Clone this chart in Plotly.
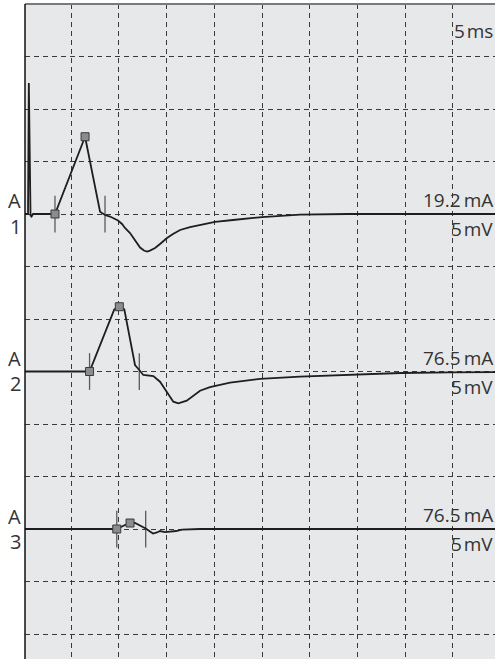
import plotly.graph_objects as go

# ---------------- data (time in ms, amplitude in mV relative to each baseline) ----------------
trace1_t = [0.18, 0.497, 0.581, 0.759, 0.864, 1.02, 3.32, 6.47, 8.04, 8.56, 9.08, 9.43, 9.92,
            10.34, 10.65, 11.18, 11.49, 11.91, 12.23, 12.64, 12.96, 13.27, 13.80, 14.32, 15.05,
            15.68, 16.42, 17.46, 18.51, 20.08, 21.96, 25.0, 28.98, 34.0, 49.4]
trace1_v = [0, 0, 12.48, -0.16, -0.24, 0, 0, 7.36, 0.22, -0.10, -0.24, -0.41, -0.62,
            -0.95, -1.33, -1.81, -2.19, -2.76, -3.19, -3.48, -3.57, -3.48, -3.24, -2.86, -2.29,
            -1.90, -1.52, -1.24, -1.05, -0.76, -0.57, -0.29, -0.05, 0, 0]

trace2_t = [0.18, 6.94, 9.53, 10.06, 10.58, 11.70, 12.15, 12.57, 13.62, 14.32, 15.02, 15.71,
            16.24, 17.12, 18.51, 19.55, 21.65, 24.79, 28.98, 34.2, 39.5, 44.7, 49.4]
trace2_v = [0, 0, 5.92, 6.17, 5.92, 0.62, 0.14, -0.33, -0.43, -0.97, -1.92, -2.87,
            -3.03, -2.78, -1.83, -1.48, -1.05, -0.71, -0.48, -0.29, -0.14, -0.08, -0.05]

trace3_t = [0.18, 9.79, 10.65, 11.18, 11.70, 12.23, 12.82, 13.27, 13.59, 14.0, 14.32, 14.85,
            15.37, 16.0, 16.62, 18.51, 49.4]
trace3_v = [0, 0, 0.38, 0.57, 0.57, 0.33, 0.05, -0.24, -0.43, -0.33, -0.19, -0.29,
            -0.24, -0.19, -0.05, 0, 0]

marker_t = [[3.32, 6.47], [6.94, 10.06], [9.79, 11.18]]
marker_v = [[0, 7.36], [0, 6.17], [0, 0.57]]
cursor_t = [[3.32, 8.56], [6.94, 12.15], [9.79, 12.82]]

baselines = [-20, -35, -50]          # mV offset of each trace on the screen
channel_letters = ["A", "A", "A"]
channel_numbers = ["1", "2", "3"]
intensity_labels = ["19.2\u2009mA", "76.5\u2009mA", "76.5\u2009mA"]
gain_label = "5\u200amV"
time_label = "5\u200ams"

traces_t = [trace1_t, trace2_t, trace3_t]
traces_v = [trace1_v, trace2_v, trace3_v]

# ---------------- figure ----------------
W, H = 495, 659
ML, MT = 25, 4
X_RANGE = [0.18, 49.4]
Y_RANGE = [-62.38, 0]
FONT = "Open Sans"
TXT = "#333333"

fig = go.Figure()

cursor_half = 1.75
for k in range(3):
    b = baselines[k]
    for ct in cursor_t[k]:
        fig.add_trace(go.Scatter(x=[ct, ct], y=[b - cursor_half, b + cursor_half], mode="lines",
                                 line=dict(color="#5a5a5a", width=1.3), hoverinfo="skip",
                                 showlegend=False))
    fig.add_trace(go.Scatter(x=traces_t[k], y=[b + v for v in traces_v[k]], mode="lines",
                             line=dict(color="#1e1e1e", width=1.8), showlegend=False))
    fig.add_trace(go.Scatter(x=marker_t[k], y=[b + v for v in marker_v[k]], mode="markers",
                             marker=dict(symbol="square", size=8, color="#8c8c8c",
                                         line=dict(color="#3a3a3a", width=1)),
                             showlegend=False))

def px_to_paper_x(px):
    return (px - ML) / (W - ML)

def px_to_paper_y(py):
    return (H - py) / (H - MT)

ann = []
mv_per_px = 5 / 52.5
RIGHT = px_to_paper_x(495)
for k in range(3):
    b = baselines[k]
    base_py = MT + (-b) / mv_per_px
    ann.append(dict(x=px_to_paper_x(14), y=px_to_paper_y(base_py - 13), xref="paper", yref="paper",
                    text=channel_letters[k], showarrow=False, xanchor="center", yanchor="middle",
                    font=dict(family=FONT, size=20, color=TXT)))
    ann.append(dict(x=px_to_paper_x(15), y=px_to_paper_y(base_py + 12), xref="paper", yref="paper",
                    text=channel_numbers[k], showarrow=False, xanchor="center", yanchor="middle",
                    font=dict(family=FONT, size=20, color=TXT)))
    ann.append(dict(x=RIGHT, y=px_to_paper_y(base_py - 14), xref="paper", yref="paper",
                    text=intensity_labels[k], showarrow=False, xanchor="right", yanchor="middle",
                    font=dict(family=FONT, size=19, color=TXT)))
    ann.append(dict(x=RIGHT, y=px_to_paper_y(base_py + 15), xref="paper", yref="paper",
                    text=gain_label, showarrow=False, xanchor="right", yanchor="middle",
                    font=dict(family=FONT, size=19, color=TXT)))
ann.append(dict(x=RIGHT, y=px_to_paper_y(31), xref="paper", yref="paper", text=time_label,
                showarrow=False, xanchor="right", yanchor="middle",
                font=dict(family=FONT, size=19, color=TXT)))

shapes = [
    dict(type="line", xref="paper", yref="paper", x0=0, x1=1.05, y0=1, y1=1,
         line=dict(color="#7a7a7a", width=2)),
    dict(type="line", xref="paper", yref="paper", x0=0, x1=0, y0=0, y1=1,
         line=dict(color="#111111", width=1.5)),
]

fig.update_layout(
    width=W, height=H,
    margin=dict(l=ML, r=0, t=MT, b=0, pad=0),
    paper_bgcolor="white",
    plot_bgcolor="#e7e8ea",
    showlegend=False,
    annotations=ann,
    shapes=shapes,
    xaxis=dict(range=X_RANGE, showgrid=True, gridcolor="#3a3a3a", gridwidth=1,
               griddash="5px,4px", tick0=0, dtick=5, showticklabels=False, ticks="",
               zeroline=False, showline=False, fixedrange=True),
    yaxis=dict(range=Y_RANGE, showgrid=True, gridcolor="#3a3a3a", gridwidth=1,
               griddash="5px,4px", tick0=0, dtick=5, showticklabels=False, ticks="",
               zeroline=False, showline=False, fixedrange=True),
)

fig.write_html("out.html", config={"displayModeBar": False},
               post_script="document.body.style.margin='0';document.body.style.overflow='hidden';")
